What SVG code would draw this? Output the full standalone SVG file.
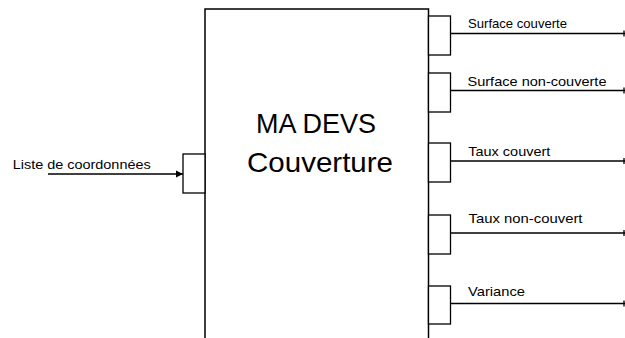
<svg xmlns="http://www.w3.org/2000/svg" width="625" height="338" viewBox="0 0 625 338">
<style>
.box{fill:#fff;stroke:#000;stroke-width:1.5}
.port{fill:#fff;stroke:#000;stroke-width:1.3}
.wire{stroke:#000;stroke-width:1.3;fill:none}
.lbl{font-family:"Liberation Sans",Arial,sans-serif;font-size:13.5px;fill:#000}
.title{font-family:"Liberation Sans",Arial,sans-serif;font-size:28px;fill:#000}
</style>
<defs>
<marker id="arr" markerWidth="8" markerHeight="8" refX="7" refY="4" orient="auto" markerUnits="userSpaceOnUse">
<path d="M0,0.5 L7,4 L0,7.5 Z" fill="#000"/>
</marker>
</defs>
<g id="main">
<path class="box" d="M205,339 V9 H428.5 V339"/>
<text class="title" x="256" y="133" textLength="120" lengthAdjust="spacingAndGlyphs">MA DEVS</text>
<text class="title" x="247" y="172" textLength="146" lengthAdjust="spacingAndGlyphs">Couverture</text>
</g>
<g id="in-port">
<rect class="port" x="183" y="154" width="22" height="39"/>
<text class="lbl" x="12.7" y="169" textLength="138" lengthAdjust="spacingAndGlyphs">Liste de coordonnées</text>
</g>
<g id="out1"><rect class="port" x="428.5" y="16" width="22" height="39"/><text class="lbl" x="468" y="27.5" textLength="99" lengthAdjust="spacingAndGlyphs">Surface couverte</text></g>
<g id="out2"><rect class="port" x="428.5" y="73" width="22" height="39"/><text class="lbl" x="467.5" y="85.5" textLength="139" lengthAdjust="spacingAndGlyphs">Surface non-couverte</text></g>
<g id="out3"><rect class="port" x="428.5" y="143" width="22" height="39"/><text class="lbl" x="468.3" y="156" textLength="82" lengthAdjust="spacingAndGlyphs">Taux couvert</text></g>
<g id="out4"><rect class="port" x="428.5" y="215" width="22" height="39"/><text class="lbl" x="468.5" y="223.3" textLength="114" lengthAdjust="spacingAndGlyphs">Taux non-couvert</text></g>
<g id="out5"><rect class="port" x="428.5" y="286" width="22" height="38"/><text class="lbl" x="468" y="296" textLength="57" lengthAdjust="spacingAndGlyphs">Variance</text></g>
<g id="connectors">
<line class="wire" x1="48" y1="174" x2="183" y2="174" marker-end="url(#arr)"/>
<line class="wire" x1="450.5" y1="33.5" x2="625" y2="33.5"/>
<line class="wire" x1="450.5" y1="90.5" x2="625" y2="90.5"/>
<line class="wire" x1="450.5" y1="161" x2="625" y2="161"/>
<line class="wire" x1="450.5" y1="233" x2="625" y2="233"/>
<line class="wire" x1="450.5" y1="303.5" x2="625" y2="303.5"/>
<path class="wire" d="M624,30.5 V36.5 M624,87.5 V93.5 M624,158 V164 M624,230 V236 M624,300.5 V306.5" stroke-width="1.5"/>
</g>
</svg>
